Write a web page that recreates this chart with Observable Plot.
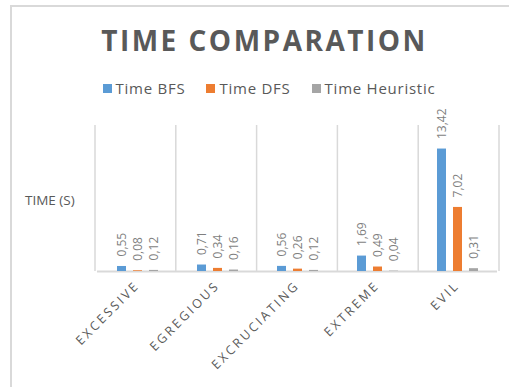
<!DOCTYPE html>
<html>
<head>
<meta charset="utf-8">
<script src="https://cdn.jsdelivr.net/npm/d3@7"></script>
<script src="https://cdn.jsdelivr.net/npm/@observablehq/plot@0.6"></script>
<style>
  html, body { margin: 0; padding: 0; background: #fff; width: 509px; height: 387px; overflow: hidden; }
  #frame { position: absolute; left: 10px; top: 5px; width: 560px; height: 420px; border-left: 2px solid #d9d9d9; border-top: 2px solid #d9d9d9; }
  #title { position: absolute; left: 0; top: 22px; width: 529px; text-align: center; font: bold 28px "Open Sans", sans-serif; letter-spacing: 2.5px; color: #595959; line-height: 36px; }
  #legend { position: absolute; left: 0; top: 79px; width: 538px; display: flex; justify-content: center; gap: 21px; font: 15px "Open Sans", sans-serif; letter-spacing: 0.75px; color: #595959; line-height: 18px; }
  #legend span.item { display: flex; align-items: center; }
  #legend span.sw { display: inline-block; width: 9px; height: 9px; margin-right: 4px; }
  #ylabel { position: absolute; left: 25px; top: 191px; font: 13.5px "Open Sans", sans-serif; color: #595959; }
  #chart { position: absolute; left: 0; top: 100px; }
</style>
</head>
<body>
<div id="frame"></div>
<div id="title">TIME COMPARATION</div>
<div id="legend"></div>
<div id="ylabel">TIME (S)</div>
<div id="chart"></div>
<script>
const categories = ["EXCESSIVE", "EGREGIOUS", "EXCRUCIATING", "EXTREME", "EVIL"];
const seriesNames = ["Time BFS", "Time DFS", "Time Heuristic"];
const timeBFS = [0.55, 0.71, 0.56, 1.69, 13.42];
const timeDFS = [0.08, 0.34, 0.26, 0.49, 7.02];
const timeHeuristic = [0.12, 0.16, 0.12, 0.04, 0.31];
const seriesColors = ["#5b9bd5", "#ed7d31", "#a5a5a5"];

const seriesValues = [timeBFS, timeDFS, timeHeuristic];
const fmt = d3.format(".2f");
const rows = [];
categories.forEach((c, i) => {
  seriesNames.forEach((s, j) => {
    const v = seriesValues[j][i];
    rows.push({category: c, series: s, value: v, label: fmt(v).replace(".", ",")});
  });
});

// legend
const legend = document.getElementById("legend");
seriesNames.forEach((s, j) => {
  const item = document.createElement("span");
  item.className = "item";
  item.innerHTML = `<span class="sw" style="background:${seriesColors[j]}"></span>${s}`;
  legend.appendChild(item);
});

const chart = Plot.plot({
  width: 509,
  height: 287,
  marginLeft: 95,
  marginRight: 10,
  marginTop: 25,
  marginBottom: 116,
  style: {fontFamily: "'Open Sans', sans-serif", background: "transparent", overflow: "visible"},
  facet: {data: rows, x: "category"},
  fx: {domain: categories, padding: 0, axis: "bottom", tickRotate: -45, label: null, tickSize: 0, tickPadding: 12},
  x: {domain: seriesNames, axis: null, paddingInner: 0.45, paddingOuter: 1.18},
  y: {domain: [0, 16], axis: null},
  color: {domain: seriesNames, range: seriesColors},
  marks: [
    Plot.ruleY([0], {stroke: "#d9d9d9", strokeWidth: 2}),
    Plot.barY(rows, {x: "series", y: "value", fill: "series"}),
    Plot.text(rows, {x: "series", y: "value", text: "label", rotate: -90, textAnchor: "start", dy: -10, fill: "#7f7f7f", fontSize: 12})
  ]
});

// style fx axis labels
d3.select(chart).selectAll("text")
  .filter(function() { return categories.includes(this.textContent); })
  .style("font-size", "12.5px")
  .style("letter-spacing", "2.6px")
  .style("fill", "#595959");

// category separators from the fx scale
const fxs = chart.scale("fx");
const ys = chart.scale("y");
const band = d3.scaleBand(fxs.domain, fxs.range)
  .paddingInner(fxs.paddingInner ?? 0)
  .paddingOuter(fxs.paddingOuter ?? 0)
  .align(fxs.align ?? 0.5);
const yTop = Math.min(...ys.range), yBot = Math.max(...ys.range);
const sepX = categories.map(c => band(c)).concat([band(categories[categories.length - 1]) + band.bandwidth()]);
d3.select(chart).insert("g", ":first-child")
  .selectAll("line").data(sepX).join("line")
  .attr("x1", d => d).attr("x2", d => d)
  .attr("y1", yTop).attr("y2", yBot)
  .attr("stroke", "#d9d9d9").attr("stroke-width", 1.5);

document.getElementById("chart").appendChild(chart);
</script>
</body>
</html>
